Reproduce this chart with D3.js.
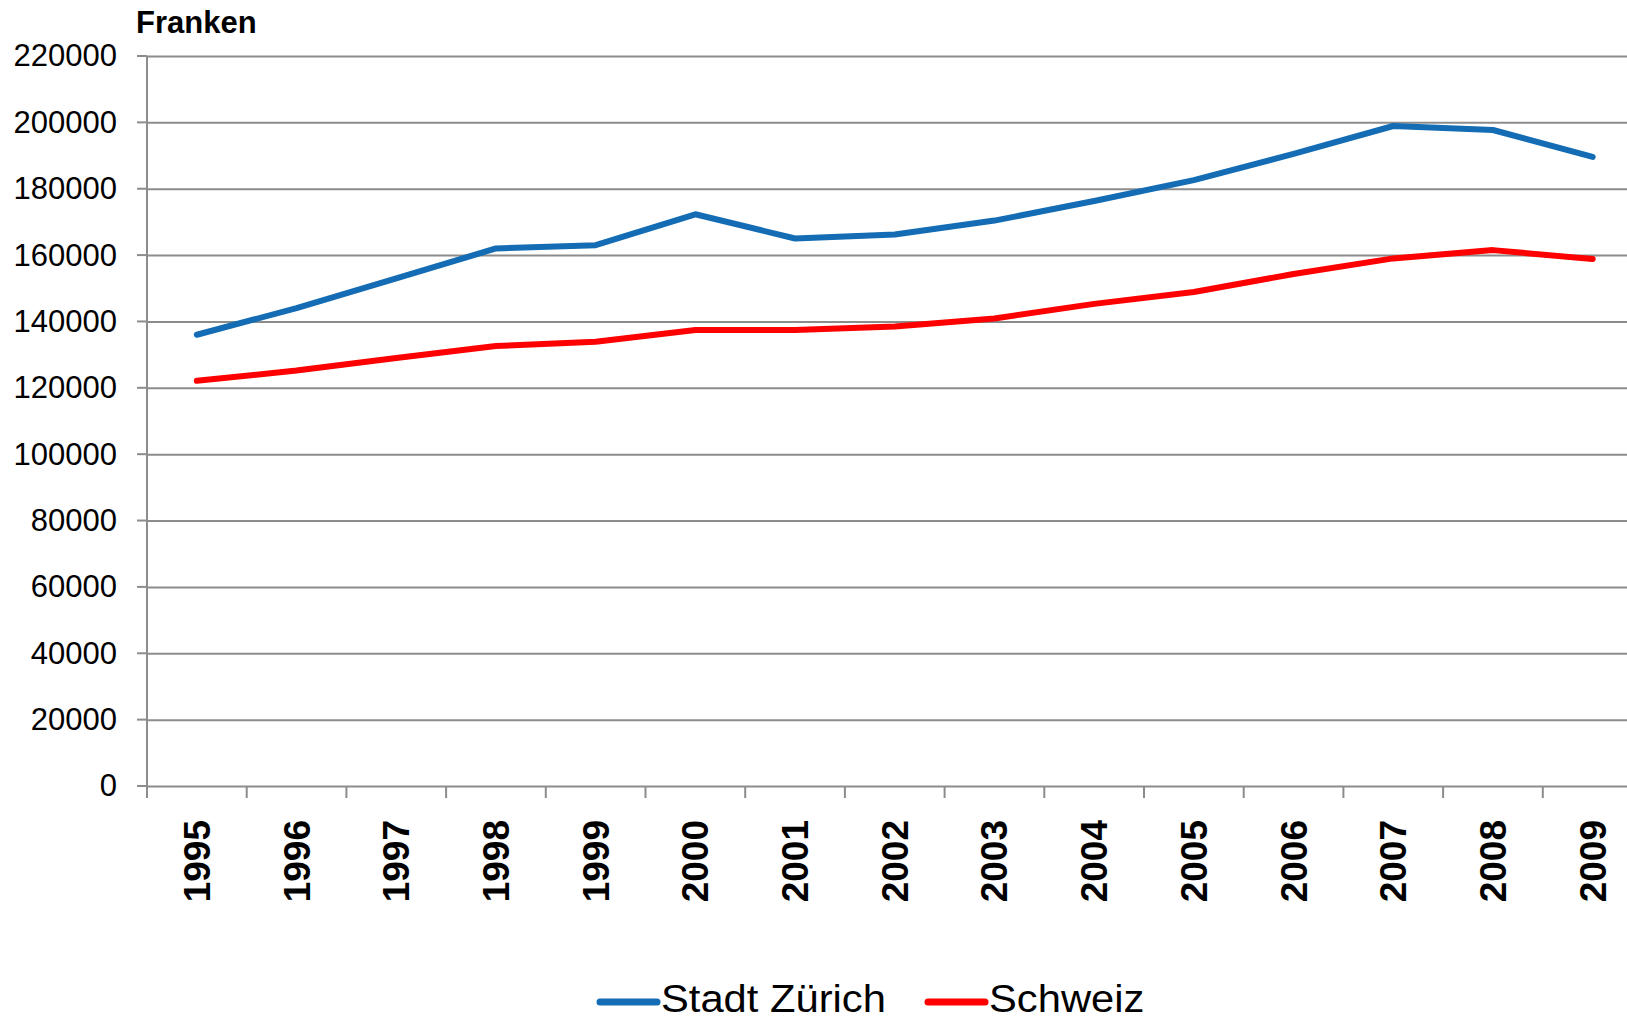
<!DOCTYPE html>
<html>
<head>
<meta charset="utf-8">
<script src="https://cdn.jsdelivr.net/npm/d3@7.9.0/dist/d3.min.js"></script>
<style>
  body { margin: 0; background: #fff; }
  svg { display: block; font-family: "Liberation Sans", Arial, sans-serif; }
</style>
</head>
<body>
<div id="chart"></div>
<script>
const years = [1995, 1996, 1997, 1998, 1999, 2000, 2001, 2002, 2003, 2004, 2005, 2006, 2007, 2008, 2009];
const stadtZuerich = [136000, 144000, 153000, 162000, 163000, 172300, 165000, 166200, 170400, 176300, 182600, 190500, 198900, 197700, 189600];
const schweiz = [122100, 125200, 129000, 132600, 133900, 137400, 137400, 138500, 140900, 145300, 148900, 154300, 159000, 161500, 158800];
const yTicks = [0, 20000, 40000, 60000, 80000, 100000, 120000, 140000, 160000, 180000, 200000, 220000];

const series = [
  { name: "Stadt Zürich", values: stadtZuerich, color: "#136cb4" },
  { name: "Schweiz", values: schweiz, color: "#ff0000" }
];

const width = 1627;
const height = 1021;

const svg = d3.select("#chart")
  .append("svg")
  .attr("width", width)
  .attr("height", height);

// plot runs past the right edge, like the cropped original
const x = d3.scaleBand()
  .domain(years)
  .range([147, 147 + 15 * 99.7])
  .padding(0);

const y = d3.scaleLinear()
  .domain([0, 220000])
  .range([786, 56]);

const gridColor = "#8c8c8c";

// gridlines + y labels
const yAxis = svg.append("g")
  .attr("transform", "translate(147,0)")
  .call(d3.axisLeft(y).tickValues(yTicks).tickSize(-(width - 147)).tickPadding(30).tickFormat(d3.format("d")));

yAxis.select(".domain").remove();
yAxis.selectAll(".tick line")
  .attr("stroke", gridColor)
  .attr("stroke-width", 2);
yAxis.selectAll(".tick text")
  .attr("fill", "#000")
  .attr("font-size", 31)
  .attr("font-family", "Liberation Sans, Arial, sans-serif");

// little tick stubs left of the axis
svg.append("g")
  .selectAll("line")
  .data(yTicks)
  .join("line")
  .attr("x1", 137)
  .attr("x2", 147)
  .attr("y1", d => y(d))
  .attr("y2", d => y(d))
  .attr("stroke", gridColor)
  .attr("stroke-width", 2);

// y axis line
svg.append("line")
  .attr("x1", 147).attr("x2", 147)
  .attr("y1", y(220000)).attr("y2", y(0))
  .attr("stroke", gridColor)
  .attr("stroke-width", 2);

// x ticks at category boundaries
const boundaries = years.map(d => x(d)).concat([x.range()[1]]);
svg.append("g")
  .selectAll("line")
  .data(boundaries)
  .join("line")
  .attr("x1", d => d).attr("x2", d => d)
  .attr("y1", y(0)).attr("y2", y(0) + 12)
  .attr("stroke", gridColor)
  .attr("stroke-width", 2);

// year labels, rotated
svg.append("g")
  .selectAll("text")
  .data(years)
  .join("text")
  .attr("transform", d => `translate(${x(d) + x.bandwidth() / 2 + 13},820) rotate(-90)`)
  .attr("text-anchor", "end")
  .attr("font-size", 37)
  .attr("font-weight", "bold")
  .text(d => d);

// unit label
svg.append("text")
  .attr("x", 136)
  .attr("y", 33)
  .attr("font-size", 31)
  .attr("font-weight", "bold")
  .text("Franken");

// lines
const line = d3.line()
  .x((d, i) => x(years[i]) + x.bandwidth() / 2)
  .y(d => y(d));

svg.append("g")
  .selectAll("path")
  .data(series)
  .join("path")
  .attr("d", d => line(d.values))
  .attr("fill", "none")
  .attr("stroke", d => d.color)
  .attr("stroke-width", 6)
  .attr("stroke-linecap", "round")
  .attr("stroke-linejoin", "round");

// legend
const legendX = [600, 928];
const legend = svg.append("g")
  .selectAll("g")
  .data(series)
  .join("g")
  .attr("transform", (d, i) => `translate(${legendX[i]},1002)`);

legend.append("line")
  .attr("x1", 0).attr("x2", 57)
  .attr("stroke", d => d.color)
  .attr("stroke-width", 7)
  .attr("stroke-linecap", "round");

// text a touch wider than the font, as in the original
legend.append("text")
  .attr("transform", "translate(61,10) scale(1.07,1)")
  .attr("font-size", 39)
  .text(d => d.name);
</script>
</body>
</html>
